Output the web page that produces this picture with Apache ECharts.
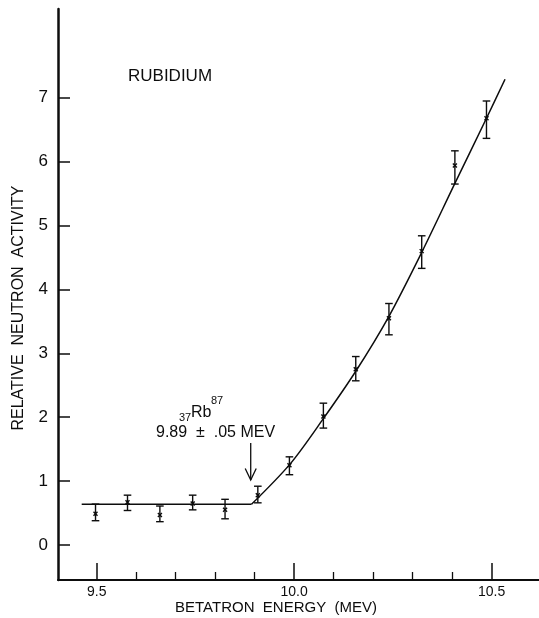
<!DOCTYPE html>
<html>
<head>
<meta charset="utf-8">
<script src="https://cdn.jsdelivr.net/npm/echarts@6/dist/echarts.min.js"></script>
<style>
html,body{margin:0;padding:0;background:#fff;}
#chart{width:539px;height:618px;}
</style>
</head>
<body>
<div id="chart"></div>
<script>
// ---- data ----
const energy   = [9.497, 9.578, 9.66, 9.743, 9.825, 9.908, 9.988, 10.074, 10.156, 10.24, 10.323, 10.407, 10.487];
const activity = [0.49, 0.67, 0.47, 0.65, 0.55, 0.78, 1.25, 2.01, 2.75, 3.55, 4.60, 5.94, 6.68];
const errLow   = [0.38, 0.54, 0.365, 0.55, 0.41, 0.66, 1.10, 1.83, 2.57, 3.29, 4.33, 5.65, 6.365];
const errHigh  = [0.64, 0.78, 0.61, 0.78, 0.715, 0.92, 1.38, 2.22, 2.95, 3.78, 4.84, 6.17, 6.95];

const flatX  = [9.462, 9.892];
const flatY  = [0.637, 0.637];
const curveX = [9.892, 9.99, 10.073, 10.156, 10.24, 10.323, 10.407, 10.487, 10.534];
const curveY = [0.637, 1.27, 1.97, 2.72, 3.58, 4.58, 5.66, 6.68, 7.29];

const thresholdE = 9.89;
const arrowTop = 1.596, arrowTip = 1.017;

const xMajorTicks = [9.5, 10.0, 10.5];
const xMinorTicks = [9.6, 9.7, 9.8, 9.9, 10.1, 10.2, 10.3, 10.4];
const yTicks = [0, 1, 2, 3, 4, 5, 6, 7];

// ---- build ----
const ink = '#0d0d0d';
const FONT = 'Liberation Sans, Arial, sans-serif';
const pts = energy.map((e, i) => [e, activity[i], errLow[i], errHigh[i]]);
const flat = flatX.map((x, i) => [x, flatY[i]]);
const curve = curveX.map((x, i) => [x, curveY[i]]);

const chart = echarts.init(document.getElementById('chart'), null, {renderer: 'canvas'});

const xRange = {min: 9.402, max: 10.62};
const option = {
  backgroundColor: '#fff',
  animation: false,
  grid: {left: 58, right: 0, top: 9, bottom: 38},
  xAxis: [{
    type: 'value', min: xRange.min, max: xRange.max, position: 'bottom',
    axisLine: {show: true, onZero: false, lineStyle: {color: ink, width: 2}},
    axisTick: {show: true, inside: true, length: 17, customValues: xMajorTicks, lineStyle: {color: ink, width: 1.5}},
    axisLabel: {show: true, customValues: xMajorTicks, margin: 5, color: ink, fontSize: 14, fontFamily: FONT,
      formatter: v => v.toFixed(1)},
    splitLine: {show: false}
  }, {
    type: 'value', min: xRange.min, max: xRange.max, position: 'bottom',
    axisLine: {show: false, onZero: false},
    axisTick: {show: true, inside: true, length: 8, customValues: xMinorTicks, lineStyle: {color: ink, width: 1.3}},
    axisLabel: {show: false},
    splitLine: {show: false}
  }],
  yAxis: {
    type: 'value', min: -0.548, max: 8.39,
    axisLine: {show: true, onZero: false, lineStyle: {color: ink, width: 2.5}},
    axisTick: {show: true, inside: true, length: 12, customValues: yTicks, lineStyle: {color: ink, width: 1.5}},
    axisLabel: {show: true, customValues: yTicks, margin: 10, color: ink, fontSize: 17, fontFamily: FONT},
    splitLine: {show: false}
  },
  graphic: [
    {type: 'text', x: 128, y: 76, style: {text: 'RUBIDIUM', font: '17px ' + FONT, fill: ink, align: 'left', verticalAlign: 'middle'}},
    {type: 'text', x: 19, y: 308, rotation: Math.PI / 2,
      style: {text: 'RELATIVE  NEUTRON  ACTIVITY', font: '16px ' + FONT, fill: ink, align: 'center', verticalAlign: 'middle'}},
    {type: 'text', x: 276, y: 608, style: {text: 'BETATRON  ENERGY  (MEV)', font: '15px ' + FONT, fill: ink, align: 'center', verticalAlign: 'middle'}},
    {type: 'text', x: 179, y: 418, style: {text: '37', font: '11px ' + FONT, fill: ink, align: 'left', verticalAlign: 'middle'}},
    {type: 'text', x: 191, y: 413, style: {text: 'Rb', font: '16px ' + FONT, fill: ink, align: 'left', verticalAlign: 'middle'}},
    {type: 'text', x: 211, y: 401, style: {text: '87', font: '11px ' + FONT, fill: ink, align: 'left', verticalAlign: 'middle'}},
    {type: 'text', x: 156, y: 433, style: {text: '9.89  \u00b1  .05 MEV', font: '16px ' + FONT, fill: ink, align: 'left', verticalAlign: 'middle'}}
  ],
  series: [
    {type: 'line', data: flat, showSymbol: false, lineStyle: {color: ink, width: 1.5}, z: 2},
    {type: 'line', data: curve, smooth: 0.3, showSymbol: false, lineStyle: {color: ink, width: 1.5}, z: 2},
    {
      type: 'custom', data: pts, z: 3,
      renderItem: function (params, api) {
        const c = api.coord([api.value(0), api.value(1)]);
        const lo = api.coord([api.value(0), api.value(2)]);
        const hi = api.coord([api.value(0), api.value(3)]);
        const w = 3.8, s = 2;
        const st = {stroke: ink, lineWidth: 1.4, fill: null};
        return {type: 'group', children: [
          {type: 'line', shape: {x1: lo[0], y1: lo[1], x2: hi[0], y2: hi[1]}, style: st},
          {type: 'line', shape: {x1: lo[0] - w, y1: lo[1], x2: lo[0] + w, y2: lo[1]}, style: st},
          {type: 'line', shape: {x1: hi[0] - w, y1: hi[1], x2: hi[0] + w, y2: hi[1]}, style: st},
          {type: 'line', shape: {x1: c[0] - s, y1: c[1] - s, x2: c[0] + s, y2: c[1] + s}, style: st},
          {type: 'line', shape: {x1: c[0] - s, y1: c[1] + s, x2: c[0] + s, y2: c[1] - s}, style: st}
        ]};
      }
    },
    {
      type: 'custom', data: [[thresholdE, arrowTop, arrowTip]], z: 3,
      renderItem: function (params, api) {
        const t = api.coord([api.value(0), api.value(1)]);
        const b = api.coord([api.value(0), api.value(2)]);
        const st = {stroke: ink, lineWidth: 1.3, fill: null};
        return {type: 'group', children: [
          {type: 'line', shape: {x1: t[0], y1: t[1], x2: b[0], y2: b[1]}, style: st},
          {type: 'polyline', shape: {points: [[b[0] - 5.5, b[1] - 11.5], [b[0], b[1]], [b[0] + 5.5, b[1] - 11.5]]}, style: st}
        ]};
      }
    }
  ]
};
chart.setOption(option);
</script>
</body>
</html>
